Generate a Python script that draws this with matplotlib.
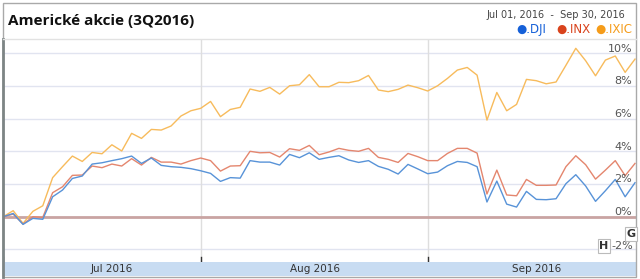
import numpy as np
import matplotlib.pyplot as plt
from matplotlib.patches import Rectangle

# cumulative change since Jul 01, 2016 [%], one value per trading day
dji = [0.0, 0.20, -0.47, -0.10, -0.16, 1.22, 1.63, 2.34, 2.49, 3.22,
       3.30, 3.43, 3.55, 3.71, 3.26, 3.59, 3.14, 3.06, 3.02, 2.94,
       2.81, 2.65, 2.16, 2.39, 2.36, 3.43, 3.34, 3.34, 3.16, 3.81,
       3.61, 3.91, 3.51, 3.63, 3.73, 3.47, 3.32, 3.43, 3.08, 2.90,
       2.61, 3.20, 2.92, 2.63, 2.73, 3.12, 3.38, 3.32, 3.06, 0.90,
       2.18, 0.77, 0.59, 1.55, 1.06, 1.04, 1.10, 2.02, 2.57, 1.88,
       0.94, 1.59, 2.28, 1.22, 2.08]
inx = [0.0, 0.16, -0.45, 0.0, -0.04, 1.47, 1.83, 2.53, 2.55, 3.10,
       3.00, 3.22, 3.10, 3.55, 3.16, 3.63, 3.34, 3.34, 3.22, 3.43,
       3.59, 3.43, 2.79, 3.10, 3.12, 4.00, 3.91, 3.93, 3.65, 4.16,
       4.06, 4.36, 3.79, 3.96, 4.18, 4.06, 4.00, 4.18, 3.63, 3.51,
       3.32, 3.87, 3.67, 3.43, 3.43, 3.87, 4.18, 4.18, 3.89, 1.39,
       2.85, 1.33, 1.28, 2.28, 1.92, 1.92, 1.94, 3.06, 3.73, 3.18,
       2.30, 2.85, 3.43, 2.51, 3.26]
ixic = [0.0, 0.37, -0.41, 0.33, 0.67, 2.39, 3.06, 3.71, 3.38, 3.93,
        3.85, 4.40, 4.02, 5.10, 4.79, 5.34, 5.30, 5.55, 6.16, 6.48,
        6.63, 7.05, 6.12, 6.56, 6.69, 7.81, 7.67, 7.91, 7.50, 8.01,
        8.07, 8.69, 7.95, 7.95, 8.22, 8.20, 8.32, 8.64, 7.75, 7.65,
        7.79, 8.05, 7.89, 7.69, 8.01, 8.46, 8.97, 9.13, 8.66, 5.91,
        7.60, 6.48, 6.87, 8.40, 8.32, 8.13, 8.24, 9.26, 10.30, 9.54,
        8.62, 9.58, 9.83, 8.83, 9.64]

names = ['.DJI', '.INX', '.IXIC']
month_labels = ['Jul 2016', 'Aug 2016', 'Sep 2016']
month_starts = [0, 20, 43]
y_ticks = [10, 8, 6, 4, 2, 0]

W, H = 640, 279
def fx(px):
    return px / W
def fy(py):
    return 1 - py / H

line_colors = ['#5893d8', '#e4866e', '#f7bb5c']
text_colors = ['#1560d8', '#d9431c', '#f59c1a']

fig = plt.figure(figsize=(6.4, 2.79), dpi=100)
fig.patch.set_facecolor('white')

ax = fig.add_axes([fx(3), fy(262), fx(636) - fx(3), fy(39) - fy(262)])
x = np.arange(len(dji))
ax.set_xlim(-0.03, 64.1)
ax.set_ylim(-2.77, 10.87)
for s in ax.spines.values():
    s.set_visible(False)
ax.set_xticks([])
ax.set_yticks([])

# grid
for v in [10, 8, 6, 4, 2, -2]:
    ax.axhline(v, color='#e1e4f0', lw=1.0, zorder=1)
for m in month_starts[1:]:
    ax.axvline(m, color='#dedede', lw=1.0, zorder=1)
ax.axhline(0, color='#c9a4a2', lw=2.0, zorder=2)

for ser, c in zip([ixic, inx, dji], [line_colors[2], line_colors[1], line_colors[0]]):
    ax.plot(x, ser, color=c, lw=1.0, zorder=3)

for v in y_ticks:
    ax.text(63.7, v + 0.28, f'{v}%', ha='right', va='center', fontsize=8,
            color='#555555', family='DejaVu Sans', zorder=5)

# small month ticks above timeline
for m in month_starts:
    ax.plot([m, m], [-2.45, -2.72], color='#333333', lw=1.0, zorder=4)

# timeline bar
fig.patches.append(Rectangle((fx(4), fy(276)), fx(636) - fx(4), fy(262) - fy(276),
                             transform=fig.transFigure, facecolor='#c8dcf2',
                             edgecolor='none'))
for lab, px in zip(month_labels, [112, 315, 537]):
    fig.text(fx(px), fy(269), lab, ha='center', va='center', fontsize=7.5,
             color='#333333', family='DejaVu Sans')

# frame
fig.patches.append(Rectangle((fx(2.5), fy(277)), fx(636) - fx(2.5), fy(3) - fy(277),
                             transform=fig.transFigure, facecolor='none',
                             edgecolor='#a9a9a9', lw=1.0))
fig.lines.append(plt.Line2D([fx(3), fx(3)], [fy(277), fy(39)], transform=fig.transFigure,
                            color='#7d8585', lw=2.0))
fig.lines.append(plt.Line2D([fx(3), fx(636)], [fy(39), fy(39)], transform=fig.transFigure,
                            color='#e2e2e2', lw=1.0))

# header
fig.text(fx(8), fy(21), 'Americké akcie (3Q2016)', ha='left', va='center',
         fontsize=11, fontweight='bold', color='#111111', family='Open Sans')
fig.text(fx(625), fy(15), 'Jul 01, 2016  -  Sep 30, 2016', ha='right', va='center',
         fontsize=7, color='#444444', family='DejaVu Sans')
for nm, c, px in zip(names, text_colors, [516, 556, 595]):
    fig.text(fx(px), fy(29.5), '\u25cf' + nm, ha='left', va='center', fontsize=8.5,
             color=c, family='DejaVu Sans')

# range buttons in the corner
fig.text(fx(622), fy(246), '-2%', ha='center', va='center', fontsize=8, color='#555555')
fig.text(fx(604), fy(246), 'H', ha='center', va='center', fontsize=8, fontweight='bold',
         color='#333333', bbox=dict(boxstyle='square,pad=0.15', fc='white', ec='#bbbbbb', lw=0.8))
fig.text(fx(631), fy(234), 'G', ha='center', va='center', fontsize=8, fontweight='bold',
         color='#333333', bbox=dict(boxstyle='square,pad=0.15', fc='white', ec='#bbbbbb', lw=0.8))

fig.savefig('out.png', dpi=100)
